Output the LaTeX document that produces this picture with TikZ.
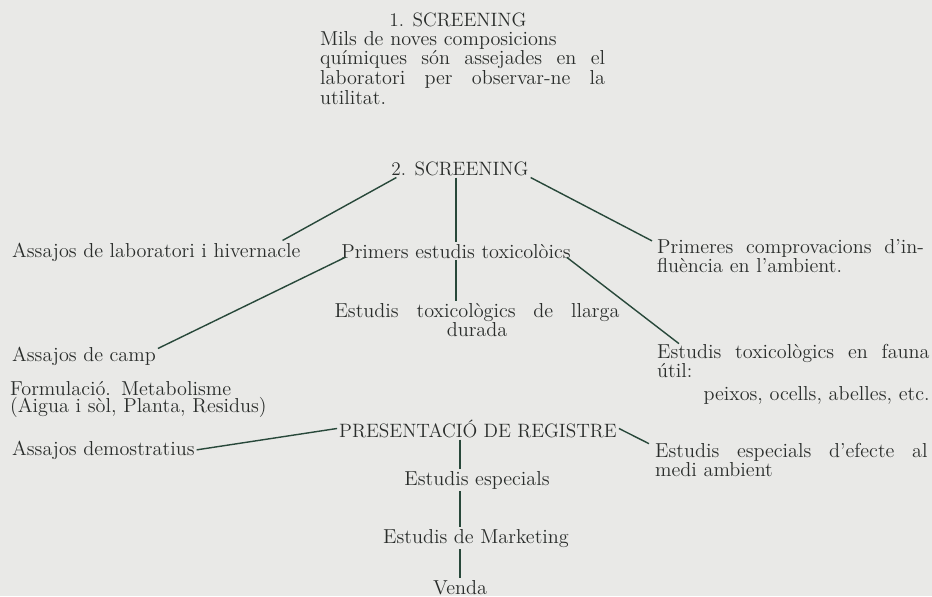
\documentclass[tikz,border=0pt]{standalone}
\usepackage{tikz}
\usetikzlibrary{calc}
\definecolor{paper}{RGB}{233,233,231}
\definecolor{inktext}{RGB}{42,45,43}
\definecolor{inkline}{RGB}{40,72,58}
\newcommand{\spreadline}[1]{\makebox[\hsize][s]{#1}}
\setlength{\lineskiplimit}{-20pt}
\AtBeginDocument{\setlength{\normalbaselineskip}{9.8pt}}

\begin{document}
\begin{tikzpicture}[
    x=0.02cm, y=-0.02cm,
    lbl/.style={inner sep=1pt, text=inktext, font=\fontsize{11.5}{9.8}\selectfont},
    caps/.style={lbl, font=\fontsize{11}{9.8}\selectfont},
    para/.style={lbl, align=left},
    link/.style={draw=inkline, line width=0.8pt}
  ]
  \fill[paper] (0,0) rectangle (932,596);
  \useasboundingbox (0,0) rectangle (932,596);

  % first screening
  \node[caps, anchor=base] (scr1) at (458,26) {1. SCREENING};
  \node[para, anchor=base west, text width=5.7cm] (mils) at (318,45)
    {Mils de noves composicions\\
     \spreadline{químiques\hfill són\hfill assejades\hfill en\hfill el}\\
     \spreadline{laboratori\hfill per\hfill observar-ne\hfill la}\\ utilitat.};

  % second screening and its branches
  \node[caps, anchor=base] (scr2) at (460,175) {2. SCREENING};
  \node[lbl, anchor=base west] (lab) at (10,257) {Assajos de laboratori i hivernacle};
  \node[lbl, anchor=base] (prim) at (456,258) {Primers estudis toxicolòics};
  \node[para, anchor=base west, text width=5.34cm] (infl) at (655,253)
    {\spreadline{Primeres\hfill comprovacions\hfill d'in-}\\fluència en l'ambient.};
  \node[lbl, anchor=base, text width=5.7cm, align=center] (llarga) at (477,317)
    {\spreadline{Estudis\hfill toxicològics\hfill de\hfill llarga}\\durada};
  \node[lbl, anchor=base west] (camp) at (10,361) {Assajos de camp};
  \node[para, anchor=base west, text width=5.45cm] (fauna) at (655,358)
    {\spreadline{Estudis\hfill toxicològics\hfill en\hfill fauna}\\útil:\\[3pt]
     \spreadline{\hfill peixos, ocells, abelles, etc.}};
  \node[para, anchor=base west, text width=5.6cm] (form) at (8,395)
    {Formulació. Metabolisme\\(Aigua i sòl, Planta, Residus)};

  % registration and after
  \node[caps, anchor=base] (pres) at (478,437) {PRESENTACIÓ DE REGISTRE};
  \node[lbl, anchor=base west] (demo) at (10,455) {Assajos demostratius};
  \node[para, anchor=base west, text width=5.45cm] (medi) at (653,457)
    {\spreadline{Estudis\hfill especials\hfill d'efecte\hfill al}\\medi ambient};
  \node[lbl, anchor=base] (esp) at (477,485) {Estudis especials};
  \node[lbl, anchor=base] (mkt) at (476,543) {Estudis de Marketing};
  \node[lbl, anchor=base] (venda) at (460,594) {Venda};

  % connectors
  \draw[link] ($(scr2.south west)+(7,0)$) -- ($(lab.north east)+(-20,0)$);
  \draw[link] (prim.north |- scr2.south) -- (prim.north);
  \draw[link] (scr2.south east) -- ($(infl.north west)+(-3,4)$);
  \draw[link] ($(prim.south west)+(6,-3)$) -- ($(camp.north east)+(0,4)$);
  \draw[link] (prim.south) -- (prim.south |- llarga.north);
  \draw[link] ($(prim.south east)+(-6,-3)$) -- ($(fauna.north west)+(24,2)$);
  \draw[link] (pres.west) -- (demo.east);
  \draw[link] (pres.east) -- ($(medi.north west)+(-4,3)$);
  \draw[link] (pres.south -| venda.north) -- (esp.north -| venda.north);
  \draw[link] (esp.south -| venda.north) -- (mkt.north -| venda.north);
  \draw[link] (mkt.south -| venda.north) -- (venda.north);
\end{tikzpicture}
\end{document}
